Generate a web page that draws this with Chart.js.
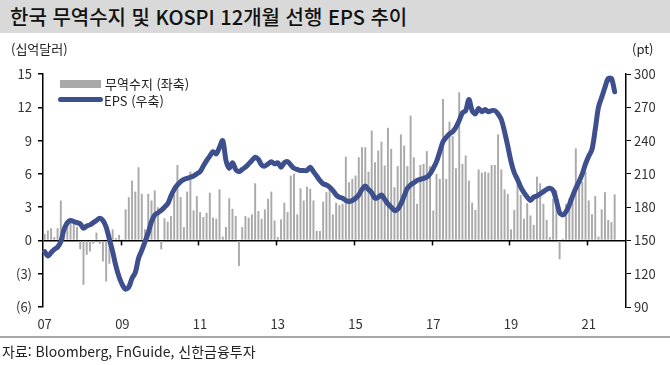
<!DOCTYPE html>
<html lang="ko">
<head>
<meta charset="utf-8">
<script src="https://cdn.jsdelivr.net/npm/chart.js@4.4.1/dist/chart.umd.min.js"></script>
<style>
  body { margin:0; background:#fff; font-family:'Noto Sans CJK KR','Noto Sans',sans-serif; }
  #wrap { position:relative; width:670px; height:365px; overflow:hidden; background:#fff; }
  #chart { position:absolute; left:0; top:0; }
  .txt { position:absolute; white-space:nowrap; color:#222; }
  #titleBar { position:absolute; left:0; top:0; width:670px; height:33px; background:#d9d9d9; }
  #rule { position:absolute; left:0; top:336px; width:670px; height:2px; background:#a6a6a6; }
</style>
</head>
<body>
<div id="wrap">
  <div id="titleBar"></div>
  <div class="txt" style="left:10px;top:2px;font-size:20px;font-weight:500;color:#111;">한국 무역수지 및 KOSPI 12개월 선행 EPS 추이</div>
  <canvas id="chart" width="670" height="365"></canvas>
  <div class="txt" style="left:11px;top:39px;font-size:13px;">(십억달러)</div>
  <div class="txt" style="left:632px;top:39px;font-size:13px;">(pt)</div>
  <!-- legend -->
  <div style="position:absolute;left:60px;top:80px;width:41px;height:8px;background:#a9a9a9;"></div>
  <div class="txt" style="left:105px;top:74px;font-size:13px;">무역수지 (좌축)</div>
  <div style="position:absolute;left:58px;top:97px;width:45px;height:5px;border-radius:3px;background:#3e4f8e;"></div>
  <div class="txt" style="left:104px;top:91px;font-size:13px;">EPS (우축)</div>
  <div id="rule"></div>
  <div class="txt" style="left:2px;top:341px;font-size:14px;">자료: Bloomberg, FnGuide, 신한금융투자</div>
</div>
<script>
// monthly, Jan 2007 - Sep 2021 (axis runs to Dec 2021)
const firstYear = 2007, lastYear = 2021;
const yearLabels = ['07','09','11','13','15','17','19','21'];

// 무역수지, 십억달러
const tradeBalance = [
  0.6, 0.9, 1.1, 0.3, 1.1, 3.6, 1.3, 1.6, 2.0, 1.5, 1.2, -0.8,       // 2007
  -4.0, -1.3, -1.0, -0.3, 0.7, -0.3, -1.9, -3.7, -2.1, 1.0, 0.2, 0.5, // 2008
  0.1, 2.8, 3.9, 5.4, 4.4, 6.6, 4.2, 1.0, 4.2, 3.6, 4.5, 3.0,        // 2009
  -0.8, 2.0, 1.7, 2.2, 4.1, 6.8, 3.9, 1.2, 4.4, 6.2, 2.7, 4.0,       // 2010
  2.55, 2.1, 2.5, 4.3, 2.05, 1.95, 4.6, 0.35, 1.2, 3.8, 2.85, 2.2,   // 2011
  -2.3, 1.2, 2.2, 2.05, 2.35, 5.15, 2.65, 1.95, 2.8, 3.75, 4.4, 1.8, // 2012
  0.3, 1.9, 3.4, 2.55, 5.85, 6.0, 2.35, 4.7, 3.6, 4.85, 4.65, 3.6,   // 2013
  0.85, 0.85, 3.5, 4.35, 4.65, 2.35, 3.4, 3.2, 3.3, 7.55, 5.25, 5.55,// 2014
  5.85, 7.5, 8.4, 8.4, 6.2, 9.9, 7.05, 8.1, 8.9, 6.75, 10.15, 8.25,  // 2015
  4.8, 6.7, 9.55, 8.55, 6.7, 11.25, 7.5, 3.3, 6.8, 6.9, 8.05, 6.7,   // 2016
  2.7, 6.0, 5.55, 12.75, 5.55, 10.7, 9.4, 6.5, 13.35, 6.9, 7.65, 5.4,// 2017
  3.4, 2.75, 6.4, 6.1, 6.2, 6.1, 6.8, 6.8, 9.55, 6.4, 4.6, 4.2,      // 2018
  1.0, 2.75, 5.2, 4.1, 1.95, 3.35, 2.25, 1.4, 5.75, 5.15, 3.3, 1.85, // 2019
  0.3, 3.75, 4.5, -1.7, 0.15, 3.3, 3.8, 3.6, 8.3, 5.6, 5.3, 6.2,     // 2020
  3.6, 2.35, 4.0, 0.35, 2.8, 4.35, 1.85, 1.65, 4.15                  // 2021
];

// KOSPI 12개월 선행 EPS, pt
const epsForward = [
  140, 136, 139, 142, 144, 149, 160, 166, 168, 167, 166, 165,
  161, 163, 164, 166, 168, 170, 168, 162, 151, 140, 127, 117,
  110, 106, 108, 116, 121, 134, 141, 149, 157, 167, 173, 175,
  177, 180, 183, 190, 196, 200, 203, 205, 206, 207, 208, 210,
  212, 217, 222, 226, 230, 228, 234, 240, 222, 215, 220, 214,
  212, 214, 216, 219, 222, 225, 223, 218, 217, 219, 221, 219,
  220, 216, 220, 221, 218, 215, 214, 213, 213, 213, 216, 212,
  208, 204, 201, 200, 198, 195, 191, 189, 188, 186, 185, 186,
  188, 191, 196, 199, 196, 193, 188, 189, 191, 187, 183, 180,
  177, 178, 183, 190, 197, 200, 202, 204, 205, 206, 207, 210,
  215, 221, 230, 239, 243, 246, 248, 252, 258, 265, 267, 277,
  267, 264, 269, 266, 268, 266, 267, 267, 264, 259, 248, 235,
  221, 211, 205, 198, 193, 189, 186, 189, 190, 192, 194, 196,
  197, 195, 186, 175, 173, 176, 182, 190, 197, 203, 210, 219,
  226, 232, 250, 270, 279, 288, 296, 296, 284
];

const months = [];
for (let y = firstYear; y <= lastYear; y++) {
  for (let m = 1; m <= 12; m++) months.push(y + '-' + m);
}

const FONT = "'Noto Sans CJK KR','Noto Sans',sans-serif";
const navy = '#3e4f8e';

// small tick marks on the zero line at every second year boundary
const yearTicks = {
  id: 'yearTicks',
  afterDatasetsDraw(chart) {
    const x = chart.scales.x, y = chart.scales.y;
    const y0 = y.getPixelForValue(0);
    const ctx = chart.ctx;
    ctx.save();
    ctx.strokeStyle = '#000';
    ctx.lineWidth = 1.5;
    months.forEach((m, i) => {
      const [yr, mo] = m.split('-').map(Number);
      if (mo === 1 && i > 0 && yearLabels.includes(String(yr).slice(2))) {
        const px = Math.round((x.getPixelForValue(i) + x.getPixelForValue(i - 1)) / 2) + 0.5;
        ctx.beginPath(); ctx.moveTo(px, y0); ctx.lineTo(px, y0 + 5); ctx.stroke();
      }
    });
    ctx.restore();
  }
};

new Chart(document.getElementById('chart'), {
  data: {
    labels: months,
    datasets: [
      { type:'line', label:'EPS (우축)', data: epsForward, yAxisID:'y1', order:0,
        borderColor: navy, borderWidth:5, pointRadius:0, tension:0.3,
        borderCapStyle:'round', borderJoinStyle:'round', fill:false },
      { type:'bar', label:'무역수지 (좌축)', data: tradeBalance, yAxisID:'y', order:1,
        backgroundColor:'#aaaaaa', barPercentage:0.6, categoryPercentage:1.0 }
    ]
  },
  options: {
    responsive:false, animation:false,
    layout: { padding: { top:74, bottom:30, left:0, right:0 } },
    plugins: { legend:{ display:false }, tooltip:{ enabled:false } },
    scales: {
      x: {
        grid:{ display:false }, border:{ display:false },
        ticks:{
          autoSkip:false, maxRotation:0, padding:1,
          color:'#333', font:{ family:FONT, size:13 },
          callback(v, i) {
            const [yr, mo] = months[i].split('-');
            const s = yr.slice(2);
            return (mo === '1' && yearLabels.includes(s)) ? s : '';
          }
        },
        afterFit(s){ s.height = 28; }
      },
      y: {
        position:'left', min:-6, max:15,
        ticks:{ stepSize:3, padding:6, color:'#333', font:{ family:FONT, size:13 },
          callback: v => v < 0 ? '(' + Math.abs(v) + ')' : String(v) },
        grid:{ drawOnChartArea:true, tickLength:5, tickColor:'#000', lineWidth:1.5,
          color: c => (c.tick && c.tick.value === 0) ? '#000' : 'rgba(0,0,0,0)' },
        border:{ display:true, color:'#000', width:1.5 },
        afterFit(s){ s.width = 43; }
      },
      y1: {
        position:'right', min:90, max:300,
        ticks:{ stepSize:30, padding:3, color:'#333', font:{ family:FONT, size:13 } },
        grid:{ drawOnChartArea:false, tickLength:5, tickColor:'#000' },
        border:{ display:true, color:'#000', width:1.5 },
        afterFit(s){ s.width = 44; }
      }
    }
  },
  plugins:[yearTicks]
});
</script>
</body>
</html>
